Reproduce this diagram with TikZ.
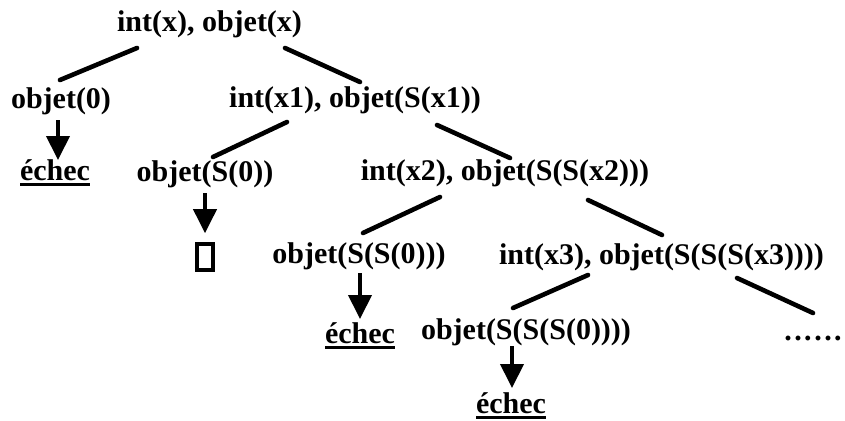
\documentclass[tikz,border=0pt]{standalone}
\usepackage{fontspec}
\setmainfont{Liberation Serif}
\usetikzlibrary{arrows.meta}
% thick underline for the failure leaves
\newcommand\fail[1]{\leavevmode\vtop{\hbox{#1}\kern3pt\hrule height 3pt}}
\begin{document}
\begin{tikzpicture}[x=1pt,y=-1pt,
  lbl/.style={inner sep=0pt, anchor=base, font=\fontsize{30}{36}\selectfont\bfseries},
  edge/.style={line width=4.6pt, line cap=round},
  down/.style={line width=4pt, -{Triangle[width=23pt,length=24pt]}},
  emptybox/.style={draw, line width=3.6pt, minimum width=16pt, minimum height=26pt, inner sep=0pt}]
\useasboundingbox (0,0) rectangle (845,420);

% goals of the resolution tree
\node[lbl] (root) at (209.5,32) {int(x), objet(x)};
\node[lbl] (o0)   at (61,108)   {objet(0)};
\node[lbl] (i1)   at (355,107)  {int(x1), objet(S(x1))};
\node[lbl] (e1)   at (55,180)   {\fail{échec}};
\node[lbl] (s0)   at (205,181)  {objet(S(0))};
\node[lbl] (i2)   at (505,180)  {int(x2), objet(S(S(x2)))};
\node[emptybox] (ok) at (205,257) {};
\node[lbl] (ss0)  at (359,263)  {objet(S(S(0)))};
\node[lbl] (i3)   at (661.5,264){int(x3), objet(S(S(S(x3))))};
\node[lbl] (e2)   at (360,343)  {\fail{échec}};
\node[lbl] (sss0) at (526,339)  {objet(S(S(S(0))))};
\node[lbl] (more) at (813,340)  {.\kern2.5pt.\kern2.5pt.\kern2.5pt.\kern2.5pt.\kern2.5pt.};
\node[lbl] (e3)   at (511,413)  {\fail{échec}};

% branches
\draw[edge] ([shift={(-72.5,16)}]root.base) -- ([shift={(-1,-28)}]o0.base);
\draw[edge] ([shift={(75.5,16)}]root.base) -- ([shift={(5,-25)}]i1.base);
\draw[edge] ([shift={(-68,15)}]i1.base) -- ([shift={(8,-24)}]s0.base);
\draw[edge] ([shift={(82,18)}]i1.base) -- ([shift={(5,-22)}]i2.base);
\draw[edge] ([shift={(-65,17)}]i2.base) -- ([shift={(4,-30)}]ss0.base);
\draw[edge] ([shift={(83,20)}]i2.base) -- ([shift={(0.5,-29)}]i3.base);
\draw[edge] ([shift={(-73.5,11)}]i3.base) -- ([shift={(-13,-31)}]sss0.base);
\draw[edge] ([shift={(75.5,14)}]i3.base) -- ([shift={(0,-27)}]more.base);

% terminal steps
\draw[down] ([shift={(-3,12)}]o0.base) -- ([shift={(3,-20)}]e1.base);
\draw[down] ([shift={(0,12)}]s0.base) -- ([yshift=9pt]ok.north);
\draw[down] ([shift={(1,10)}]ss0.base) -- ([shift={(0,-24)}]e2.base);
\draw[down] ([shift={(-14,7)}]sss0.base) -- ([shift={(1,-25)}]e3.base);
\end{tikzpicture}
\end{document}
